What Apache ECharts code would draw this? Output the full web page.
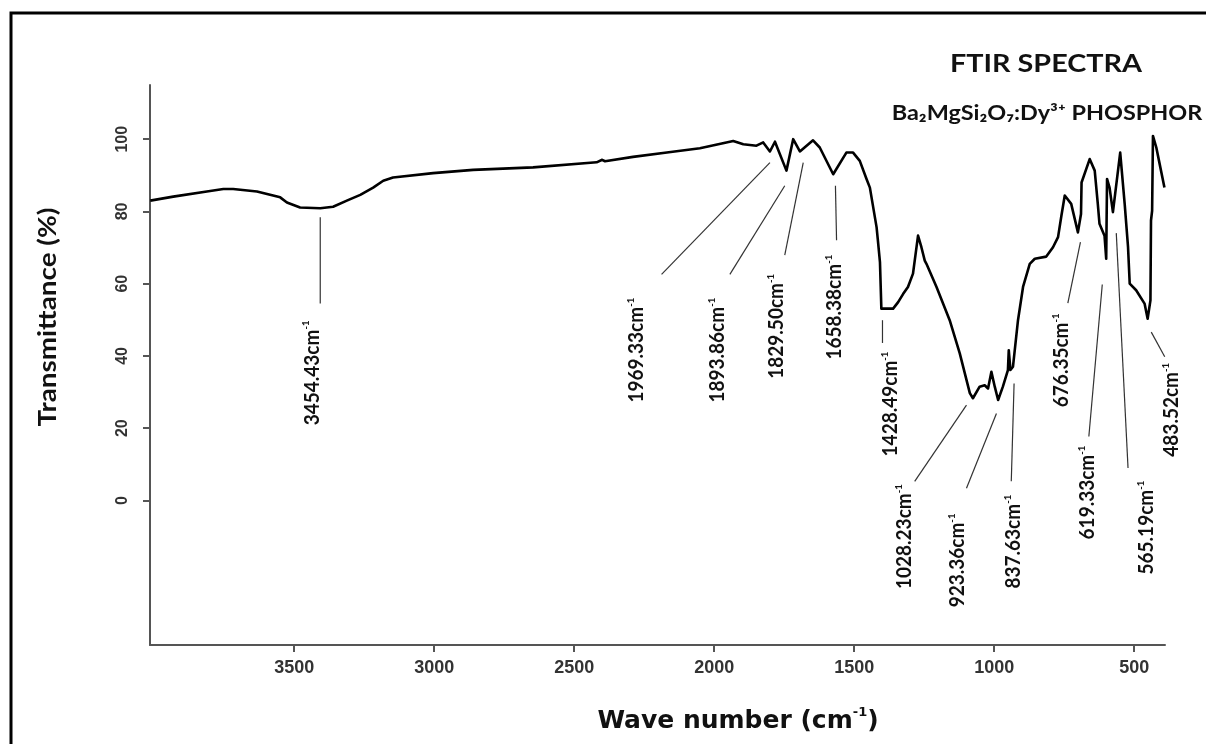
<!DOCTYPE html>
<html>
<head>
<meta charset="utf-8">
<script src="https://cdn.jsdelivr.net/npm/echarts@6/dist/echarts.min.js"></script>
<style>
html,body{margin:0;padding:0;background:#fff;}
#chart{width:1206px;height:744px;}
</style>
</head>
<body>
<div id="chart"></div>
<script>
// ---- data ----
const wavenumber = [4014,4008,3932,3812,3753,3718,3633,3550,3526,3479,3407,3361,3312,3264,3218,3182,3147,3004,2861,2647,2420,2400,2390,2290,2169,2051,1932,1896,1849,1825,1801,1783,1742,1718,1694,1647,1623,1575,1528,1504,1480,1456,1444,1420,1416,1408,1403,1361,1343,1325,1308,1290,1272,1260,1248,1242,1206,1159,1123,1087,1076,1052,1034,1022,1010,998,986,969,951,948,942,933,915,897,873,855,814,790,772,760,748,725,701,690,688,659,641,630,624,606,600,597,588,576,550,534,522,516,493,463,452,445,442,440,436,433,421,409,392];
const transmittance = [83.0,83.2,84.1,85.5,86.2,86.2,85.5,83.9,82.5,81.1,80.9,81.3,83.0,84.6,86.6,88.5,89.4,90.6,91.5,92.2,93.6,94.3,93.9,95.1,96.3,97.5,99.5,98.6,98.2,99.1,96.6,99.3,91.3,100.0,96.6,99.7,97.7,90.3,96.3,96.3,94.0,89.0,86.6,75.6,72.5,66.0,53.1,53.1,54.9,57.2,59.1,62.8,73.3,70.1,66.4,65.5,59.1,49.9,40.7,29.7,28.3,31.5,31.9,31.0,35.6,31.5,27.8,31.5,36.1,41.6,36.1,37.0,49.9,59.1,65.5,66.9,67.5,70.1,72.9,78.8,84.4,82.1,74.2,79.3,88.0,94.5,91.3,82.1,76.6,73.3,66.9,89.0,86.6,79.8,96.3,82.1,70.1,60.0,58.2,54.5,50.3,49.9,55.4,77.5,80.2,100.9,97.7,93.1,86.6];

const xTickValues = [3500,3000,2500,2000,1500,1000,500];
const yTickValues = [0,20,40,60,80,100];

// peak annotations (label text, label anchor and leader line, in data units)
const peakLabels  = ['3454.43','1969.33','1893.86','1829.50','1658.38','1428.49','1028.23','923.36','837.63','676.35','619.33','565.19','483.52'];
const peakLabelX  = [3436,2276,1987,1776,1569,1369,1319,1130,930,759,666,456,367];
const peakLabelY  = [35.3,41.6,41.6,48.2,53.5,26.7,-10.0,-16.6,-11.4,38.8,2.2,-7.5,25.1];
const leaderX0    = [3407,1801,1748,1682,1567,1399,1099,992,929,692,614,564,439];
const leaderY0    = [78.4,93.5,87.1,93.5,87.1,49.9,26.4,24.1,32.4,71.5,59.8,74.0,46.6];
const leaderX1    = [3407,2188,1944,1748,1563,1399,1284,1099,939,737,662,522,391];
const leaderY1    = [54.5,62.6,62.6,67.9,72.0,43.6,5.3,3.4,5.3,54.6,17.7,9.0,39.8];

const spectrum = wavenumber.map((w, i) => [w, transmittance[i]]);
const annotations = peakLabels.map((t, i) => [peakLabelX[i], peakLabelY[i], leaderX0[i], leaderY0[i], leaderX1[i], leaderY1[i]]);

const chart = echarts.init(document.getElementById('chart'), null, {renderer: 'canvas'});

const tickFont = "'Liberation Sans',Arial,sans-serif";
const textFont = "Lato,'Open Sans',sans-serif";
const wideFont = "'DejaVu Sans',Verdana,sans-serif";

const option = {
  animation: false,
  backgroundColor: '#ffffff',
  grid: {left: 150, right: 41, top: 85, bottom: 99, containLabel: false},
  xAxis: {
    type: 'value',
    inverse: true,
    min: 390,
    max: 4015,
    splitLine: {show: false},
    axisLine: {show: true, onZero: false, lineStyle: {color: '#555', width: 2}},
    axisTick: {show: true, length: 7, customValues: xTickValues, lineStyle: {color: '#555', width: 2}},
    axisLabel: {show: true, customValues: xTickValues, margin: 14, color: '#333', fontSize: 18, fontWeight: 'bold', fontFamily: tickFont,
      formatter: v => String(v)}
  },
  yAxis: {
    type: 'value',
    min: -40,
    max: 115,
    splitLine: {show: false},
    axisLine: {show: true, onZero: false, lineStyle: {color: '#555', width: 2}},
    axisTick: {show: true, length: 7, customValues: yTickValues, lineStyle: {color: '#555', width: 2}},
    axisLabel: {show: true, customValues: yTickValues, rotate: 90, margin: 19, color: '#333', fontSize: 16, fontWeight: 'bold', fontFamily: tickFont,
      formatter: v => String(v)}
  },
  series: [
    {
      type: 'line',
      data: spectrum,
      showSymbol: false,
      lineStyle: {color: '#000', width: 2.6, join: 'round'},
      z: 3
    },
    {
      type: 'custom',
      data: annotations,
      encode: {x: 0, y: 1},
      clip: false,
      silent: true,
      z: 4,
      renderItem: function (params, api) {
        const i = params.dataIndex;
        const p = api.coord([api.value(0), api.value(1)]);
        const a = api.coord([api.value(2), api.value(3)]);
        const b = api.coord([api.value(4), api.value(5)]);
        return {
          type: 'group',
          children: [
            {type: 'line', shape: {x1: a[0], y1: a[1], x2: b[0], y2: b[1]}, style: {stroke: '#333', lineWidth: 1.2}},
            {
              type: 'text', x: p[0], y: p[1], rotation: Math.PI / 2, scaleX: 0.95,
              style: {
                text: '{a|' + peakLabels[i] + 'cm}{s|-1}',
                align: 'center', verticalAlign: 'middle',
                rich: {
                  a: {fontSize: 20, fontWeight: 'bold', fontFamily: textFont, fill: '#111', lineHeight: 22},
                  s: {fontSize: 10, fontWeight: 'bold', fontFamily: textFont, fill: '#111', verticalAlign: 'top'}
                }
              }
            }
          ]
        };
      }
    }
  ],
  graphic: [
    {type: 'rect', shape: {x: 11, y: 13, width: 1230, height: 770}, style: {fill: 'none', stroke: '#000', lineWidth: 3}, z: 10},
    {type: 'text', x: 1046, y: 64, scaleX: 1.15, style: {text: 'FTIR SPECTRA', font: 'bold 25px ' + textFont, fill: '#111', align: 'center', verticalAlign: 'middle'}},
    {type: 'text', x: 1047, y: 113, scaleX: 1.115, style: {text: 'Ba₂MgSi₂O₇:Dy³⁺ PHOSPHOR', font: 'bold 21px ' + textFont, fill: '#111', align: 'center', verticalAlign: 'middle'}},
    {type: 'text', x: 48, y: 317, rotation: Math.PI / 2, scaleX: 1.16, style: {text: 'Transmittance (%)', font: 'bold 24px ' + textFont, fill: '#111', align: 'center', verticalAlign: 'middle'}},
    {type: 'text', x: 738, y: 721,
      style: {
        text: '{a|Wave number (cm}{s|-1}{a|)}', align: 'center', verticalAlign: 'middle',
        rich: {
          a: {fontSize: 25, fontWeight: 'bold', fontFamily: wideFont, fill: '#111', lineHeight: 30},
          s: {fontSize: 13, fontWeight: 'bold', fontFamily: wideFont, fill: '#111', verticalAlign: 'top'}
        }
      }
    }
  ]
};
chart.setOption(option);
</script>
</body>
</html>
